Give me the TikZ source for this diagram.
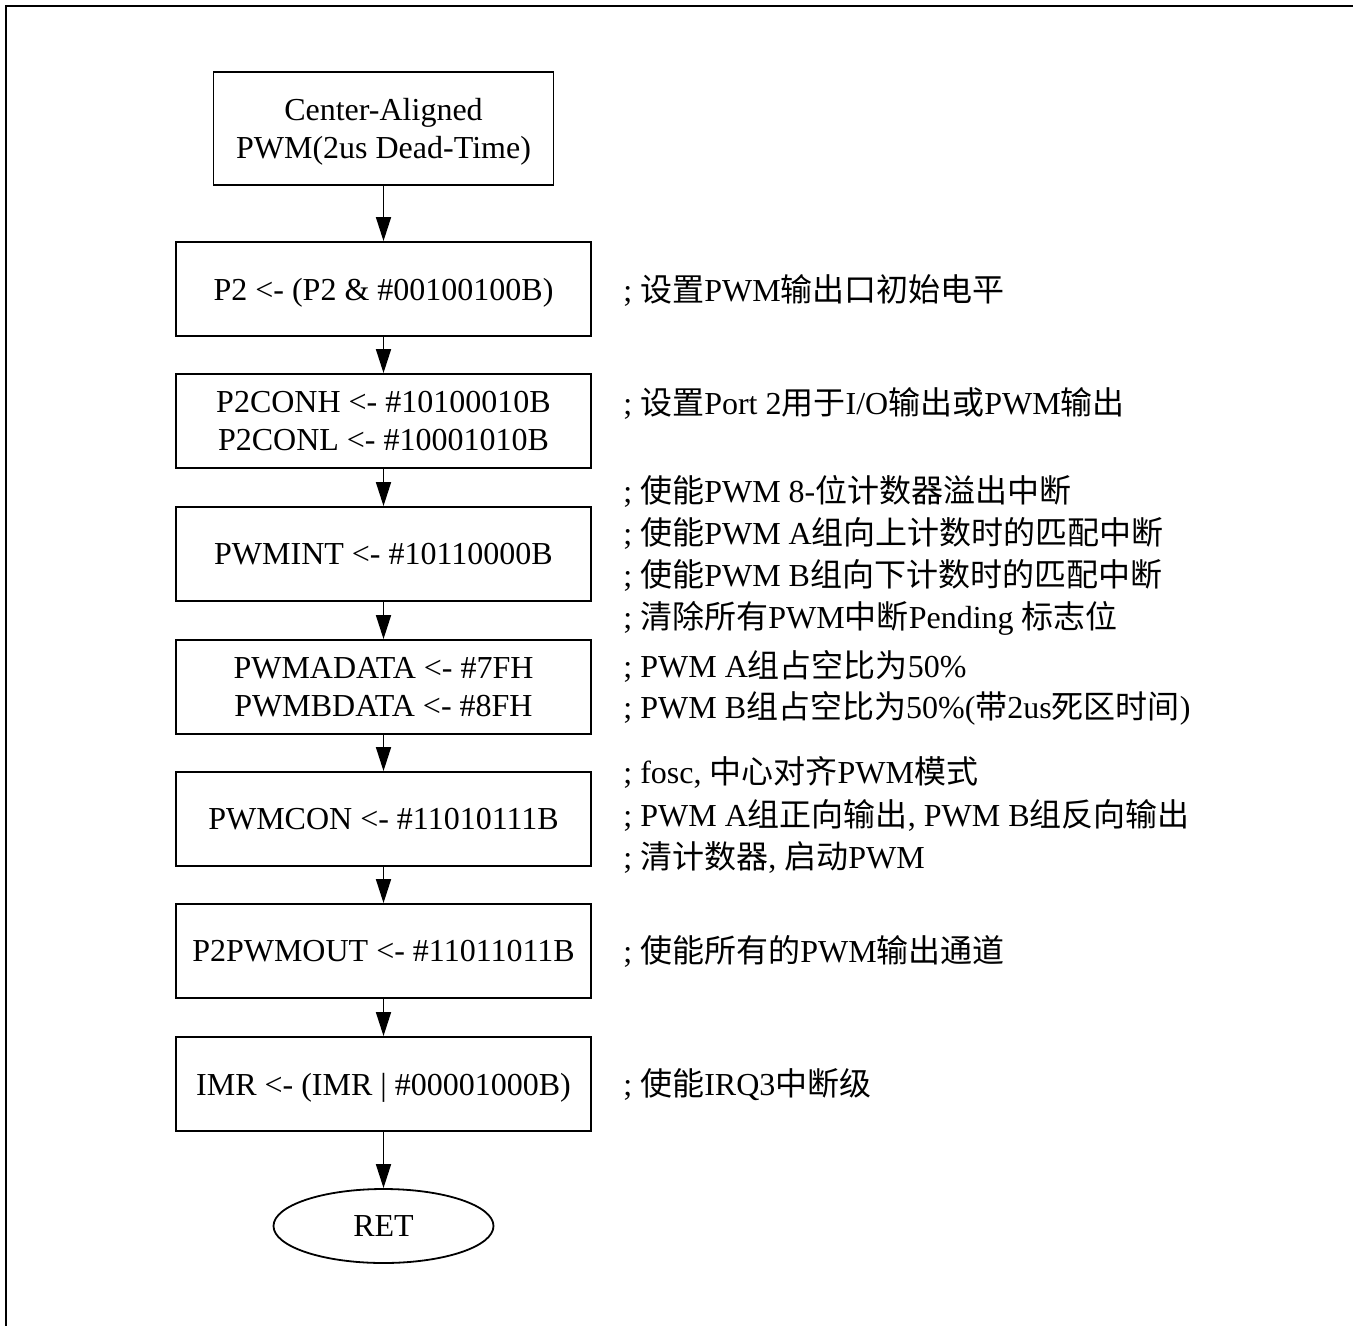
\documentclass[tikz,border=0pt]{standalone}
\usepackage{fontspec}
\setmainfont{Liberation Serif}
\newfontfamily\cjkfont{Noto Sans CJK SC}
\newcommand\zh[1]{{\cjkfont #1}}
\usetikzlibrary{arrows.meta,shapes.geometric}
\begin{document}
\begin{tikzpicture}[x=0.5pt,y=-0.5pt,
  every node/.style={font=\fontsize{16pt}{19pt}\selectfont},
  stepbox/.style={draw,line width=0.9pt,minimum width=207.5pt,minimum height=47pt,
    align=center,inner sep=0pt,text depth=0pt},
  endbox/.style={draw,ellipse,line width=0.9pt,minimum width=110pt,minimum height=37pt,
    inner sep=0pt},
  note/.style={anchor=base west,inner sep=0pt},
  flow/.style={line width=0.8pt,-{Triangle[length=12pt,width=7.5pt]}},
  frame/.style={line width=1pt}]
\useasboundingbox (0,0) rectangle (1353,1326);

% partial frame (top and left edges)
\coordinate (fTR) at (1353,6);
\coordinate (fTL) at (6,6);
\coordinate (fBL) at (6,1326);
\draw[frame] (fTR) -- (fTL) -- (fBL);

% flow chart
\node[stepbox,minimum width=170pt,minimum height=56.5pt] (start) at (383.5,128.5)
  {Center-Aligned\\PWM(2us Dead-Time)};
\node[stepbox] (p2)    at (383.5,289)  {P2 <- (P2 \& \#00100100B)};
\node[stepbox] (p2con) at (383.5,421)  {P2CONH <- \#10100010B\\P2CONL <- \#10001010B};
\node[stepbox] (pint)  at (383.5,554)  {PWMINT <- \#10110000B};
\node[stepbox] (pdata) at (383.5,687)  {PWMADATA <- \#7FH\\PWMBDATA <- \#8FH};
\node[stepbox] (pcon)  at (383.5,819)  {PWMCON <- \#11010111B};
\node[stepbox] (pout)  at (383.5,951)  {P2PWMOUT <- \#11011011B};
\node[stepbox] (imr)   at (383.5,1084) {IMR <- (IMR | \#00001000B)};
\node[endbox]  (ret)   at (383.5,1226) {RET};

\draw[flow] (start) -- (p2);
\draw[flow] (p2) -- (p2con);
\draw[flow] (p2con) -- (pint);
\draw[flow] (pint) -- (pdata);
\draw[flow] (pdata) -- (pcon);
\draw[flow] (pcon) -- (pout);
\draw[flow] (pout) -- (imr);
\draw[flow] (imr) -- (ret);

% comments
\node[note] (c1)  at (623,302)  {; \zh{设置}PWM\zh{输出口初始电平}};
\node[note] (c2)  at (623,414)  {; \zh{设置}Port 2\zh{用于}I/O\zh{输出或}PWM\zh{输出}};
\node[note] (c3a) at (623,502)  {; \zh{使能}PWM 8-\zh{位计数器溢出中断}};
\node[note] (c3b) at (623,544)  {; \zh{使能}PWM A\zh{组向上计数时的匹配中断}};
\node[note] (c3c) at (623,586)  {; \zh{使能}PWM B\zh{组向下计数时的匹配中断}};
\node[note] (c3d) at (623,628)  {; \zh{清除所有}PWM\zh{中断}Pending \zh{标志位}};
\node[note] (c4a) at (623,677)  {; PWM A\zh{组占空比为}50\%};
\node[note] (c4b) at (623,718)  {; PWM B\zh{组占空比为}50\%(\zh{带}2us\zh{死区时间})};
\node[note] (c5a) at (623,783)  {; fosc, \zh{中心对齐}PWM\zh{模式}};
\node[note] (c5b) at (623,826)  {; PWM A\zh{组正向输出}, PWM B\zh{组反向输出}};
\node[note] (c5c) at (623,868)  {; \zh{清计数器}, \zh{启动}PWM};
\node[note] (c6)  at (623,962)  {; \zh{使能所有的}PWM\zh{输出通道}};
\node[note] (c7)  at (623,1095) {; \zh{使能}IRQ3\zh{中断级}};
\end{tikzpicture}
\end{document}
